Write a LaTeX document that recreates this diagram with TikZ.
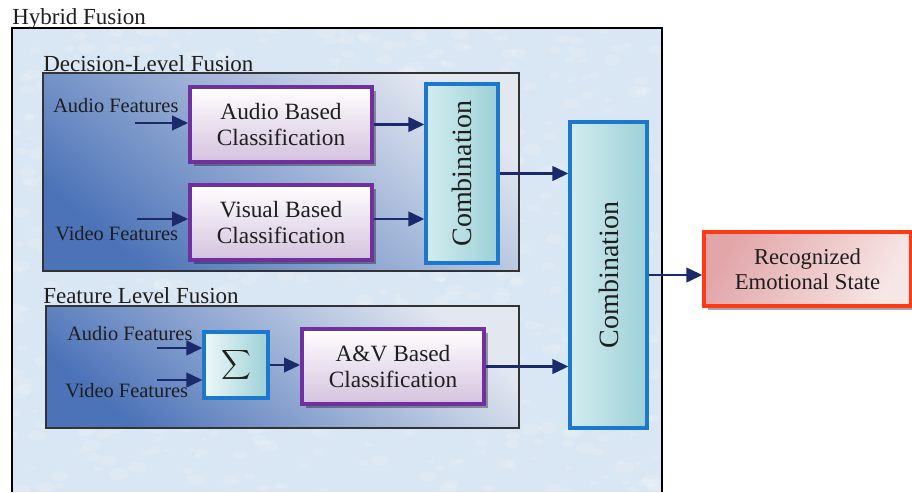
\documentclass[tikz,border=0pt]{standalone}
\usepackage{fontspec}
\setmainfont{Liberation Serif}
\newfontfamily\tnr{Liberation Serif}
\usetikzlibrary{arrows.meta,shadows,calc}
\definecolor{navy}{HTML}{1B2A6B}
\definecolor{txt}{HTML}{1E1E1E}
\definecolor{bgblue}{HTML}{D9E6F3}
\definecolor{grpdark}{HTML}{4C73B8}
\definecolor{grplight}{HTML}{E2E7F0}
\definecolor{purp}{HTML}{7030A0}
\definecolor{lav}{HTML}{D4C2DE}
\definecolor{cblue}{HTML}{1C78CC}
\definecolor{teal1}{HTML}{D2ECEF}
\definecolor{teal2}{HTML}{EEF8F9}
\definecolor{teal3}{HTML}{9CD0D7}
\definecolor{redb}{HTML}{FF3A14}
\definecolor{pink1}{HTML}{E2A6A9}
\definecolor{pink2}{HTML}{F7E6E6}
\tikzset{
  lbl/.style={inner sep=0pt, text=txt, font=\tnr\fontsize{17.25}{20}\selectfont},
  feat/.style={inner sep=0pt, text=txt, font=\tnr\fontsize{15.3}{18}\selectfont},
  grp/.style={draw=black!80, line width=1.5pt, inner sep=0pt,
    top color=grplight, bottom color=grpdark, shading angle=-40},
  cls/.style={draw=purp, line width=3pt, inner sep=0pt, align=center, text=txt,
    minimum width=136.5pt, minimum height=56.25pt,
    top color=white, bottom color=lav,
    font=\tnr\fontsize{17.5}{19.5}\selectfont,
    drop shadow={shadow xshift=3pt, shadow yshift=-3pt, fill=black, opacity=0.35}},
  comb/.style={draw=cblue, line width=2.5pt, inner sep=0pt, text=txt,
    left color=teal1, middle color=teal2, right color=teal3,
    font=\tnr\fontsize{21}{24}\selectfont},
  arr/.style={draw=navy, line width=1.75pt, -{Triangle[length=12pt,width=11pt]}}
}
\begin{document}
\begin{tikzpicture}[x=0.75pt,y=-0.75pt]
\useasboundingbox (0,0) rectangle (912,492);
% hybrid area
\node[fill=bgblue, draw=none, inner sep=0pt, minimum width=487.5pt, minimum height=348pt] (hyb) at (337,260) {};
\begin{scope}
  \clip (hyb.south west) rectangle (hyb.north east);
  \pgfmathsetseed{11}
  \foreach \i in {1,...,700} {
    \pgfmathsetmacro{\px}{12+650*rnd}
    \pgfmathsetmacro{\py}{28+464*rnd}
    \pgfmathsetmacro{\rr}{3+7*rnd}
    \fill[white, opacity=0.14] (\px,\py) ellipse[x radius=\rr, y radius=0.6*\rr];
  }
\end{scope}
\draw[line width=1.8pt, black] (hyb.south west) -- (hyb.north west) -- (hyb.north east) -- (hyb.south east);
\node[lbl, anchor=base west] (thyb) at (12,25) {Hybrid Fusion};
% groups
\node[grp, minimum width=357pt, minimum height=148.5pt] (dec) at (281,172) {};
\node[lbl, anchor=base west] (tdec) at (43,71) {Decision-Level Fusion};
\node[grp, minimum width=354.75pt, minimum height=91.5pt] (fea) at (282.5,367) {};
\node[lbl, anchor=base west] (tfea) at (43,303) {Feature Level Fusion};
% decision level
\node[feat, anchor=base west] (ta1) at (53,112) {Audio Features};
\node[feat, anchor=base west] (tv1) at (55,240) {Video Features};
\node[cls] (aud) at (281,124.5) {Audio Based\\Classification};
\node[cls] (vis) at (281,222.5) {Visual Based\\Classification};
\node[comb, minimum width=54pt, minimum height=134.25pt] (comb1) at (462,173.5) {\rotatebox{90}{Combination}};
% feature level
\node[feat, anchor=base west] (ta2) at (67,340) {Audio Features};
\node[feat, anchor=base west] (tv2) at (65,397) {Video Features};
\node[comb, minimum width=48pt, minimum height=49.5pt, left color=teal2, right color=teal3] (sig) at (236,365) {\scalebox{1.55}{$\displaystyle\sum$}};
\node[cls] (av) at (393,366.5) {A\&V Based\\Classification};
% final
\node[comb, minimum width=57.75pt, minimum height=229.5pt] (comb2) at (608.5,275) {\rotatebox{90}{Combination}};
\node[draw=redb, line width=2.5pt, inner sep=0pt, align=center, text=txt,
  minimum width=155.25pt, minimum height=55.5pt,
  left color=pink1, right color=pink2, shading angle=60,
  font=\tnr\fontsize{17}{19}\selectfont,
  drop shadow={shadow xshift=3pt, shadow yshift=-3pt, fill=black, opacity=0.35}] (rec) at (807.5,269) {Recognized\\Emotional State};
% connectors
\coordinate (ain) at (135,123);
\coordinate (vin) at (137,219);
\coordinate (fa) at (157,348);
\coordinate (fv) at (157,380);
\draw[arr] (ain) -- (ain -| aud.west);
\draw[arr] (vin) -- (vin -| vis.west);
\draw[arr] (aud.east) -- (aud.east -| comb1.west);
\draw[arr] (vin -| vis.east) -- (vin -| comb1.west);
\draw[arr] (comb1.east) -- (comb1.east -| comb2.west);
\draw[arr] (fa) -- (fa -| sig.west);
\draw[arr] (fv) -- (fv -| sig.west);
\draw[arr] (sig.east) -- (sig.east -| av.west);
\draw[arr] (av.east) -- (av.east -| comb2.west);
\draw[arr] (comb2.east) -- (comb2.east -| rec.west);
\end{tikzpicture}
\end{document}
